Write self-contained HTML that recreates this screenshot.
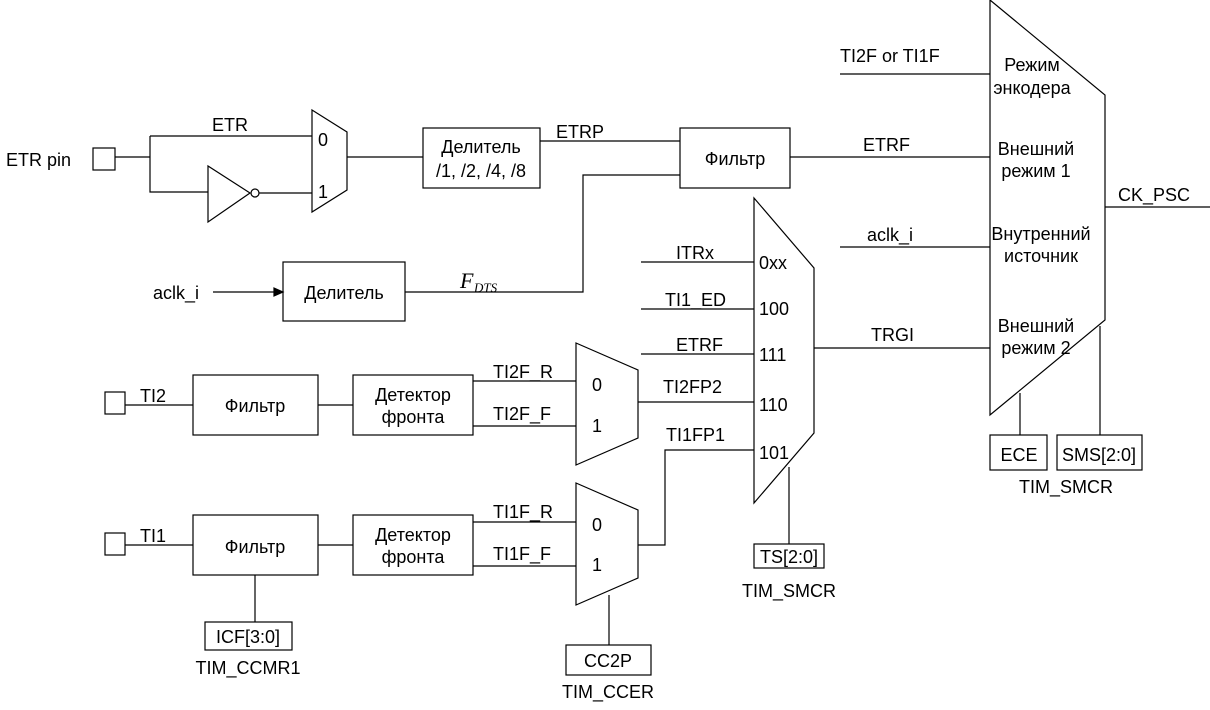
<!DOCTYPE html>
<html><head><meta charset="utf-8"><style>
body{margin:0;background:#fff}
svg text{font-family:"Liberation Sans",sans-serif;font-size:18px;fill:#000}
</style></head><body>
<svg width="1210" height="705" viewBox="0 0 1210 705" xmlns="http://www.w3.org/2000/svg">
<g fill="none" stroke="#000" stroke-width="1.2">
<rect x="93" y="148" width="22" height="22"/>
<path d="M115 157H150M150 136V192H208M150 136H312"/>
<path d="M208 166L208 222L250 193Z"/>
<circle cx="255" cy="193" r="4"/>
<path d="M259 193H312"/>
<path d="M312 110L347 132V190L312 212Z"/>
<path d="M347 157H423"/>
<rect x="423" y="128" width="117" height="60"/>
<path d="M540 141H680"/>
<rect x="680" y="128" width="110" height="60"/>
<path d="M790 157H990"/>
<path d="M405 292H583V175H680"/>
<rect x="283" y="262" width="122" height="59"/>
<path d="M213 292H277"/>
<path d="M283 292L274 288V296Z" fill="#000"/>
<rect x="105" y="392" width="20" height="22"/>
<path d="M125 405H193"/>
<rect x="193" y="375" width="125" height="60"/>
<path d="M318 405H353"/>
<rect x="353" y="375" width="120" height="60"/>
<path d="M473 381H576M473 426H576"/>
<path d="M576 343L638 370V438L576 465Z"/>
<path d="M638 402H754"/>
<rect x="105" y="533" width="20" height="22"/>
<path d="M125 545H193"/>
<rect x="193" y="515" width="125" height="60"/>
<path d="M318 545H353"/>
<rect x="353" y="515" width="120" height="60"/>
<path d="M473 522H576M473 566H576"/>
<path d="M576 483L638 510V578L576 605Z"/>
<path d="M638 545H665V450H754"/>
<path d="M255 575V622"/>
<rect x="205" y="622" width="87" height="28"/>
<path d="M609 595V645"/>
<rect x="566" y="645" width="85" height="30"/>
<path d="M754 198L814 268V433L754 503Z"/>
<path d="M641 262H754M641 309H754M641 354H754"/>
<path d="M789 467V544"/>
<rect x="754" y="544" width="70" height="24"/>
<path d="M814 348H990"/>
<path d="M990 0L1105 95V320L990 415Z"/>
<path d="M840 74H990M840 247H990M1105 207H1210"/>
<path d="M1020 393V435M1100 326V435"/>
<rect x="990" y="435" width="57" height="35"/>
<rect x="1057" y="435" width="85" height="35"/>
</g>
<text x="6" y="166">ETR pin</text>
<text x="212" y="131">ETR</text>
<text x="318" y="146">0</text>
<text x="318" y="198">1</text>
<text x="481" y="153" text-anchor="middle">Делитель</text>
<text x="481" y="177" text-anchor="middle">/1, /2, /4, /8</text>
<text x="556" y="138">ETRP</text>
<text x="735" y="165" text-anchor="middle">Фильтр</text>
<text x="863" y="151">ETRF</text>
<text x="153" y="299">aclk_i</text>
<text x="344" y="299" text-anchor="middle">Делитель</text>
<text x="460" y="288" font-style="italic" style="font-family:'Liberation Serif',serif;font-size:22px">F</text>
<text x="474" y="292" font-style="italic" style="font-family:'Liberation Serif',serif;font-size:13px">DTS</text>
<text x="140" y="402">TI2</text>
<text x="255" y="412" text-anchor="middle">Фильтр</text>
<text x="413" y="401" text-anchor="middle">Детектор</text>
<text x="413" y="423" text-anchor="middle">фронта</text>
<text x="493" y="378">TI2F_R</text>
<text x="493" y="420">TI2F_F</text>
<text x="592" y="391">0</text>
<text x="592" y="432">1</text>
<text x="140" y="542">TI1</text>
<text x="255" y="553" text-anchor="middle">Фильтр</text>
<text x="413" y="541" text-anchor="middle">Детектор</text>
<text x="413" y="563" text-anchor="middle">фронта</text>
<text x="493" y="518">TI1F_R</text>
<text x="493" y="560">TI1F_F</text>
<text x="592" y="531">0</text>
<text x="592" y="571">1</text>
<text x="248" y="643" text-anchor="middle">ICF[3:0]</text>
<text x="248" y="674" text-anchor="middle">TIM_CCMR1</text>
<text x="608" y="667" text-anchor="middle">CC2P</text>
<text x="608" y="698" text-anchor="middle">TIM_CCER</text>
<text x="676" y="259">ITRx</text>
<text x="665" y="306">TI1_ED</text>
<text x="676" y="351">ETRF</text>
<text x="663" y="393">TI2FP2</text>
<text x="666" y="441">TI1FP1</text>
<text x="759" y="269">0xx</text>
<text x="759" y="315">100</text>
<text x="759" y="361">111</text>
<text x="759" y="411">110</text>
<text x="759" y="459">101</text>
<text x="789" y="563" text-anchor="middle">TS[2:0]</text>
<text x="789" y="597" text-anchor="middle">TIM_SMCR</text>
<text x="840" y="62">TI2F or TI1F</text>
<text x="867" y="241">aclk_i</text>
<text x="871" y="341">TRGI</text>
<text x="1032" y="71" text-anchor="middle">Режим</text>
<text x="1032" y="94" text-anchor="middle">энкодера</text>
<text x="1036" y="155" text-anchor="middle">Внешний</text>
<text x="1036" y="177" text-anchor="middle">режим 1</text>
<text x="1041" y="240" text-anchor="middle">Внутренний</text>
<text x="1041" y="262" text-anchor="middle">источник</text>
<text x="1036" y="332" text-anchor="middle">Внешний</text>
<text x="1036" y="354" text-anchor="middle">режим 2</text>
<text x="1118" y="201">CK_PSC</text>
<text x="1019" y="461" text-anchor="middle">ECE</text>
<text x="1099" y="461" text-anchor="middle">SMS[2:0]</text>
<text x="1066" y="493" text-anchor="middle">TIM_SMCR</text>
</svg>
</body></html>
